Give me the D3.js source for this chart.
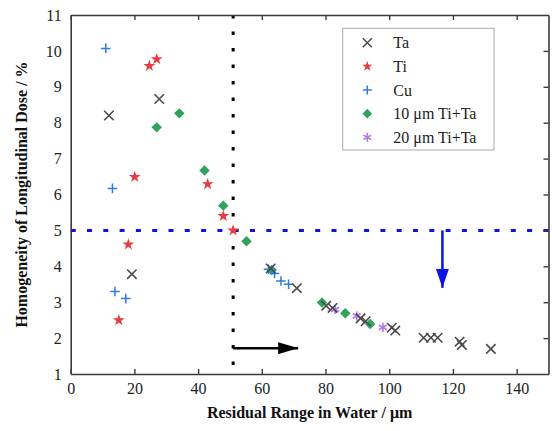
<!DOCTYPE html>
<html>
<head>
<meta charset="utf-8">
<script src="https://cdn.jsdelivr.net/npm/d3@7"></script>
<style>
  html, body { margin: 0; padding: 0; background: #fff; }
  svg { display: block; font-family: "Liberation Serif", "Times New Roman", serif; }
</style>
</head>
<body>
<svg id="chart" width="552" height="431"></svg>
<script>
// Residual range (µm) vs. homogeneity of longitudinal dose (%) for each filter material
const taX = [12, 27.8, 19.2, 62.8, 71, 80.2, 82.2, 91, 92.6, 100.8, 101.9, 110.8, 113.1, 115.2, 122.1, 122.8, 131.9];
const taY = [8.2, 8.66, 3.78, 3.94, 3.39, 2.9, 2.84, 2.55, 2.47, 2.29, 2.21, 2.01, 2.01, 2.01, 1.9, 1.81, 1.7];

const tiX = [24.7, 27, 20.1, 43, 47.9, 51, 18.1, 15.1];
const tiY = [9.58, 9.77, 6.49, 6.29, 5.4, 5.0, 4.61, 2.5];

const cuX = [11, 13.1, 13.9, 17.3, 62.1, 64, 66, 68.4];
const cuY = [10.07, 6.17, 3.3, 3.1, 3.92, 3.8, 3.59, 3.5];

const ti10X = [34.1, 27, 42, 47.9, 55.2, 63.1, 78.9, 86.2, 94];
const ti10Y = [8.26, 7.87, 6.67, 5.69, 4.7, 3.9, 2.99, 2.69, 2.39];

const ti20X = [83, 89.8, 98];
const ti20Y = [2.8, 2.62, 2.3];

const xTicks = [0, 20, 40, 60, 80, 100, 120, 140];
const yTicks = [1, 2, 3, 4, 5, 6, 7, 8, 9, 10, 11];

// Threshold guides: range limit and homogeneity limit
const rangeLimit = 51;
const homogLimit = 5;

const seriesNames = ["Ta", "Ti", "Cu", "10 \u03bcm Ti+Ta", "20 \u03bcm Ti+Ta"];

const svg = d3.select("#chart");
const margin = { left: 70.7, right: 552 - 548.5, top: 15, bottom: 431 - 374 };
const W = 552, H = 431;

const x = d3.scaleLinear().domain([0, 150]).range([margin.left, W - margin.right]);
const y = d3.scaleLinear().domain([1, 11]).range([H - margin.bottom, margin.top]);

const axisColor = "#3a3a3a";

// Guide lines
svg.append("line")
  .attr("x1", x(rangeLimit)).attr("x2", x(rangeLimit))
  .attr("y1", y(11)).attr("y2", y(1))
  .attr("stroke", "#000").attr("stroke-width", 3)
  .attr("stroke-dasharray", "3.5 13");

svg.append("line")
  .attr("x1", x(0)).attr("x2", x(150))
  .attr("y1", y(homogLimit)).attr("y2", y(homogLimit))
  .attr("stroke", "#1010e0").attr("stroke-width", 3)
  .attr("stroke-dasharray", "5 11.3");

// Arrows
const defs = svg.append("defs");
function arrowHead(id, color, len, wid) {
  defs.append("marker")
    .attr("id", id)
    .attr("viewBox", `0 0 ${len} ${wid}`)
    .attr("refX", len).attr("refY", wid / 2)
    .attr("markerWidth", len).attr("markerHeight", wid)
    .attr("markerUnits", "userSpaceOnUse")
    .attr("orient", "auto")
    .append("path").attr("d", `M0,0 L${len},${wid / 2} L0,${wid} Z`).attr("fill", color);
}
arrowHead("arrBlack", "#000", 20, 12);
arrowHead("arrBlue", "#0a14e6", 19, 13);

svg.append("line")
  .attr("x1", x(rangeLimit)).attr("x2", x(71.4))
  .attr("y1", y(1.72)).attr("y2", y(1.72))
  .attr("stroke", "#000").attr("stroke-width", 2.5)
  .attr("marker-end", "url(#arrBlack)");

svg.append("line")
  .attr("x1", x(116.7)).attr("x2", x(116.7))
  .attr("y1", y(homogLimit)).attr("y2", y(3.4))
  .attr("stroke", "#0a14e6").attr("stroke-width", 2.5)
  .attr("marker-end", "url(#arrBlue)");

// Axes (ticks on all four sides, pointing inward)
const tickLen = 5;
const gx = svg.append("g").attr("transform", `translate(0,${y(1)})`)
  .call(d3.axisBottom(x).tickValues(xTicks).tickSizeInner(-tickLen).tickSizeOuter(0).tickPadding(9));
const gxTop = svg.append("g").attr("transform", `translate(0,${y(11)})`)
  .call(d3.axisTop(x).tickValues(xTicks).tickSizeInner(-tickLen).tickSizeOuter(0).tickFormat(""));
const gy = svg.append("g").attr("transform", `translate(${x(0)},0)`)
  .call(d3.axisLeft(y).tickValues(yTicks).tickSizeInner(0).tickSizeOuter(0).tickPadding(9));
const gyRight = svg.append("g").attr("transform", `translate(${x(150)},0)`)
  .call(d3.axisRight(y).tickValues(yTicks.slice(1, -1)).tickSizeInner(-tickLen).tickSizeOuter(0).tickFormat(""));

[gx, gxTop, gy, gyRight].forEach(g => {
  g.select(".domain").attr("stroke", axisColor).attr("stroke-width", 1.6);
  g.selectAll(".tick line").attr("stroke", axisColor).attr("stroke-width", 1.4);
  g.selectAll(".tick text")
    .attr("fill", "#222")
    .style("font-family", "'Liberation Serif', 'Times New Roman', serif")
    .style("font-size", "16px");
});
gy.selectAll(".tick text").attr("dy", "0.32em");

// Axis titles
svg.append("text")
  .attr("x", (x(0) + x(150)) / 2).attr("y", 418)
  .attr("text-anchor", "middle")
  .style("font-size", "16px").style("font-weight", "bold").attr("fill", "#111")
  .text("Residual Range in Water / \u03bcm");

svg.append("text")
  .attr("transform", `translate(27,${(y(1) + y(11)) / 2}) rotate(-90)`)
  .attr("text-anchor", "middle")
  .style("font-size", "16px").style("font-weight", "bold").attr("fill", "#111")
  .text("Homogeneity of Longitudinal Dose / %");

// Marker shapes
const taColor = "#4a4a4a", tiColor = "#ea3a3f", cuColor = "#2f7be0",
      ti10Color = "#2fa35e", ti20Color = "#b27ae8";

const series = [
  { xs: ti10X, ys: ti10Y, sym: d3.symbol().type(d3.symbolDiamond2).size(70), fill: ti10Color, stroke: "none", sw: 0 },
  { xs: cuX, ys: cuY, sym: d3.symbol().type(d3.symbolPlus).size(32), fill: "none", stroke: cuColor, sw: 1.5 },
  { xs: tiX, ys: tiY, sym: d3.symbol().type(d3.symbolStar).size(44), fill: tiColor, stroke: "none", sw: 0 },
  { xs: ti20X, ys: ti20Y, sym: d3.symbol().type(d3.symbolAsterisk).size(60), fill: "none", stroke: ti20Color, sw: 1.7 },
  { xs: taX, ys: taY, sym: d3.symbol().type(d3.symbolX).size(60), fill: "none", stroke: taColor, sw: 1.6 }
];

series.forEach(s => {
  svg.append("g").selectAll("path")
    .data(d3.range(s.xs.length))
    .join("path")
    .attr("transform", i => `translate(${x(s.xs[i])},${y(s.ys[i])})`)
    .attr("d", s.sym)
    .attr("fill", s.fill)
    .attr("stroke", s.stroke)
    .attr("stroke-width", s.sw);
});

// Legend
const legX = 342.7, legY = 28.3, legW = 151.3, legH = 121.7;
const leg = svg.append("g");
leg.append("rect")
  .attr("x", legX).attr("y", legY).attr("width", legW).attr("height", legH)
  .attr("fill", "#fff").attr("stroke", "#aaa").attr("stroke-width", 1);

const legendItems = [
  { sym: d3.symbol().type(d3.symbolX).size(55), fill: "none", stroke: taColor, sw: 1.5 },
  { sym: d3.symbol().type(d3.symbolStar).size(32), fill: tiColor, stroke: "none", sw: 0 },
  { sym: d3.symbol().type(d3.symbolPlus).size(28), fill: "none", stroke: cuColor, sw: 1.5 },
  { sym: d3.symbol().type(d3.symbolDiamond2).size(60), fill: ti10Color, stroke: "none", sw: 0 },
  { sym: d3.symbol().type(d3.symbolAsterisk).size(55), fill: "none", stroke: ti20Color, sw: 1.6 }
];
const legRowY = d3.scalePoint().domain(d3.range(seriesNames.length)).range([42.7, 137.3]);
legendItems.forEach((it, i) => {
  leg.append("path")
    .attr("transform", `translate(367.3,${legRowY(i)})`)
    .attr("d", it.sym)
    .attr("fill", it.fill).attr("stroke", it.stroke).attr("stroke-width", it.sw);
  leg.append("text")
    .attr("x", 393.3).attr("y", legRowY(i)).attr("dy", "0.35em")
    .style("font-size", "16px").attr("fill", "#222")
    .text(seriesNames[i]);
});
</script>
</body>
</html>
